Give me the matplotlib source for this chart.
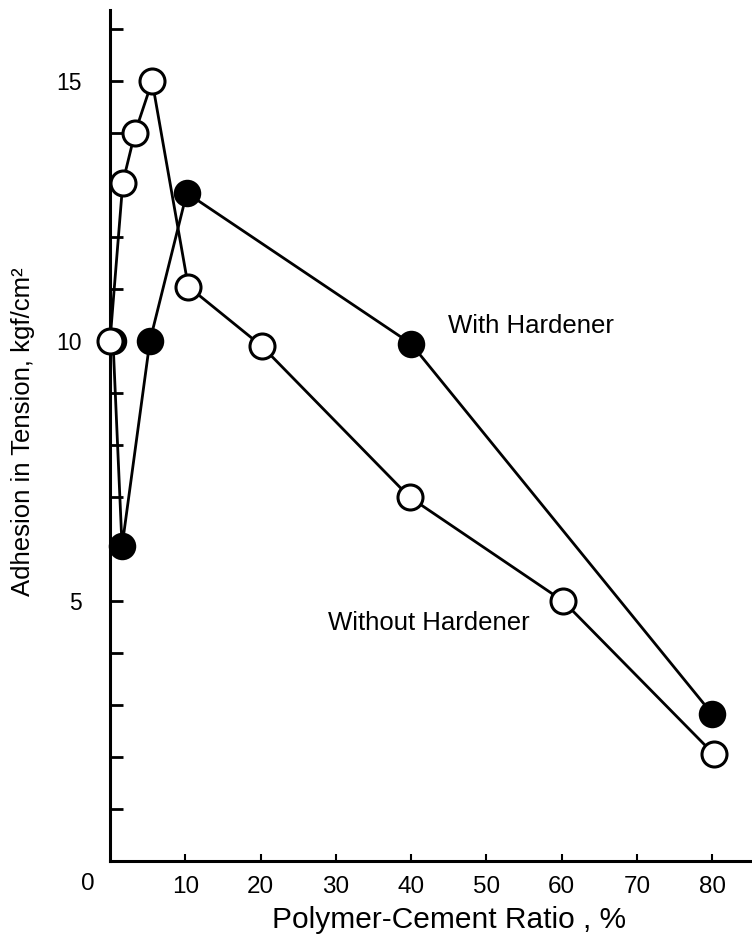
import matplotlib
matplotlib.use('Agg')
import matplotlib.pyplot as plt
from matplotlib.ticker import MultipleLocator

plt.rcParams.update({'font.family': ['Liberation Sans', 'DejaVu Sans']})

# data
with_x = [0.4, 1.6, 5.3, 10.2, 40, 80]
with_y = [10.0, 6.05, 10.0, 12.85, 9.95, 2.83]

without_x = [0, 1.7, 3.3, 5.6, 10.4, 20.2, 39.8, 60.2, 80.2]
without_y = [10.0, 13.05, 14.0, 15.0, 11.05, 9.9, 7.0, 5.0, 2.06]

x_ticks = [10, 20, 30, 40, 50, 60, 70, 80]
y_ticks = [5, 10, 15]

fig = plt.figure(figsize=(7.52, 9.41), dpi=100)
ax = fig.add_axes([110 / 752, 1 - 861 / 941, 642 / 752, 851 / 941])

ax.plot(with_x, with_y, color='black', linewidth=2.0, marker='o',
        markersize=18, markerfacecolor='black', markeredgecolor='black',
        markeredgewidth=1.8, zorder=3, clip_on=False)
ax.plot(without_x, without_y, color='black', linewidth=2.0, marker='o',
        markersize=18, markerfacecolor='white', markeredgecolor='black',
        markeredgewidth=2.2, zorder=4, clip_on=False)

ax.text(44.9, 10.15, 'With Hardener', fontsize=18.5, va='baseline', ha='left')
ax.text(28.9, 4.44, 'Without Hardener', fontsize=18.5, va='baseline', ha='left')

ax.set_xlim(0, 85.3)
ax.set_ylim(0, 16.37)

for s in ['top', 'right']:
    ax.spines[s].set_visible(False)
for s in ['left', 'bottom']:
    ax.spines[s].set_linewidth(2.2)

ax.set_xticks(x_ticks)
ax.set_yticks(y_ticks)
ax.yaxis.set_minor_locator(MultipleLocator(1))
ax.tick_params(axis='y', which='both', direction='in', length=9.5, width=2.0,
               pad=20, labelsize=16.5)
ax.tick_params(axis='x', which='major', direction='in', length=5, width=1.5,
               pad=11, labelsize=17.5)

fig.text(88 / 752, 1 - 884 / 941, '0', fontsize=17.5, ha='center', va='center')

ax.set_xlabel('Polymer-Cement Ratio , %', fontsize=21.5)
ax.xaxis.set_label_coords(0.528, -0.053)
ax.xaxis.label.set_va('top')
ax.set_ylabel('Adhesion in Tension, kgf/cm²', fontsize=18.5)
ax.yaxis.set_label_coords(-0.117, 0.505)

fig.savefig('out.png', dpi=100)
